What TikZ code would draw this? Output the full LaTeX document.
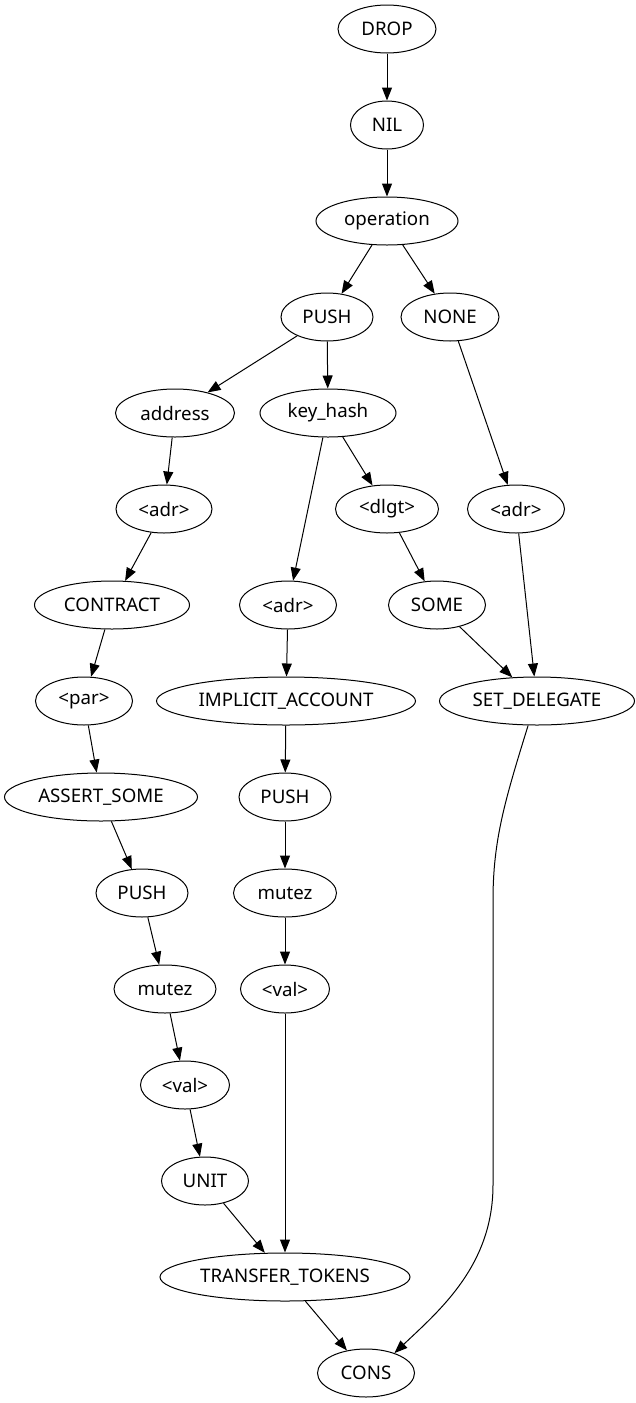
\documentclass[tikz,border=0pt]{standalone}
\usepackage{fontspec}
\setmainfont{Noto Sans}
\usetikzlibrary{arrows.meta, shapes.geometric}

\begin{document}
\begin{tikzpicture}[x=1pt, y=-1pt,
    op/.style={ellipse, draw, line width=1pt, inner sep=0pt, minimum height=48pt,
      font=\fontsize{18.7}{20}\selectfont},
    edge/.style={line width=1pt, -{Triangle[length=13pt, width=10pt]}}]
  \useasboundingbox (0,0) rectangle (635,1403);
  % top chain
  \node[op, minimum width=98pt] (drop) at (387,29) {DROP};
  \node[op, minimum width=73pt] (nil) at (387,125) {NIL};
  \node[op, minimum width=142pt] (oper) at (387,221) {operation};
  \node[op, minimum width=92pt] (push) at (327,317) {PUSH};
  \node[op, minimum width=98pt] (none) at (450,317) {NONE};
  \node[op, minimum width=119pt] (address) at (175,413) {address};
  \node[op, minimum width=136pt] (keyhash) at (328,413) {key\_hash};
  % left column
  \node[op, minimum width=96pt] (adrL) at (164,509) {<adr>};
  \node[op, minimum width=155pt] (contract) at (112,605) {CONTRACT};
  \node[op, minimum width=97pt] (par) at (84,701) {<par>};
  \node[op, minimum width=193pt] (assert) at (101,797) {ASSERT\_SOME};
  \node[op, minimum width=92pt] (pushL) at (142,893) {PUSH};
  \node[op, minimum width=102pt] (mutezL) at (165,989) {mutez};
  \node[op, minimum width=89pt] (valL) at (185,1085) {<val>};
  \node[op, minimum width=87pt] (unit) at (205,1181) {UNIT};
  % middle column
  \node[op, minimum width=97pt] (adrM) at (288,605) {<adr>};
  \node[op, minimum width=259pt] (implicit) at (286,701) {IMPLICIT\_ACCOUNT};
  \node[op, minimum width=92pt] (pushM) at (285,797) {PUSH};
  \node[op, minimum width=103pt] (mutezM) at (285,893) {mutez};
  \node[op, minimum width=89pt] (valM) at (285,989) {<val>};
  \node[op, minimum width=250pt] (transfer) at (285,1277) {TRANSFER\_TOKENS};
  % right column
  \node[op, minimum width=103pt] (dlgt) at (387,509) {<dlgt>};
  \node[op, minimum width=97pt] (adrR) at (516,509) {<adr>};
  \node[op, minimum width=97pt] (some) at (437,605) {SOME};
  \node[op, minimum width=195pt] (setdel) at (537,701) {SET\_DELEGATE};
  \node[op, minimum width=97pt] (cons) at (366,1373) {CONS};

  \foreach \a/\b in {drop/nil, nil/oper, oper/push, oper/none, push/address, push/keyhash,
      address/adrL, adrL/contract, contract/par, par/assert, assert/pushL, pushL/mutezL,
      mutezL/valL, valL/unit, unit/transfer, keyhash/adrM, keyhash/dlgt, adrM/implicit,
      implicit/pushM, pushM/mutezM, mutezM/valM, valM/transfer, dlgt/some, some/setdel,
      none/adrR, adrR/setdel, transfer/cons} {
    \draw[edge] (\a) -- (\b);
  }
  % long edge on the right
  \coordinate (bendtop) at (493,900);
  \coordinate (bendbot) at (493,1185);
  \draw[edge] (setdel.-110) .. controls (505,800) and (493,840) .. (bendtop)
    -- (bendbot) .. controls (493,1265) and (440,1310) .. (cons.35);
\end{tikzpicture}
\end{document}
